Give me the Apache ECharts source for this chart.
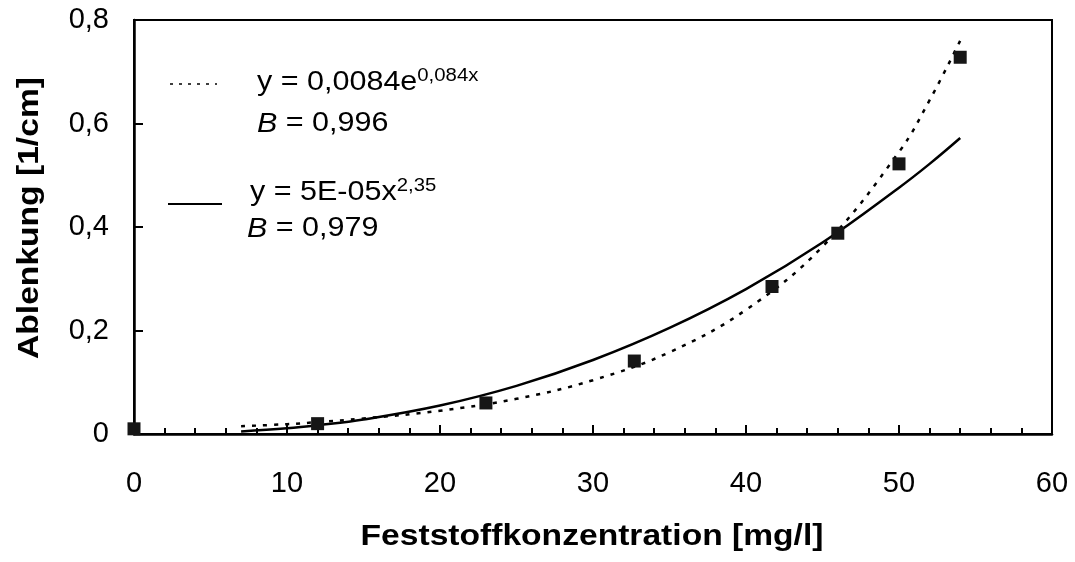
<!DOCTYPE html>
<html>
<head>
<meta charset="utf-8">
<script src="https://cdn.jsdelivr.net/npm/echarts@6/dist/echarts.min.js"></script>
<style>
  html, body { margin: 0; padding: 0; background: #fff; }
  #chart { width: 1075px; height: 562px; }
</style>
</head>
<body>
<div id="chart"></div>
<script>
// Measured points: solids concentration [mg/l] vs. deflection [1/cm]
const concentration = [0, 12, 23, 32.7, 41.7, 46, 50, 54];
const deflection = [0.01, 0.02, 0.06, 0.141, 0.285, 0.388, 0.522, 0.728];

// Trend curves (exponential, dotted; power, solid), sampled along x
const trendX = [7, 10, 12, 15, 20, 25, 30, 35, 40, 45, 50, 52, 54];
const expTrend = [0.015, 0.019, 0.023, 0.030, 0.045, 0.068, 0.104, 0.158, 0.240, 0.362, 0.545, 0.645, 0.760];
const powTrend = [0.005, 0.011, 0.017, 0.028, 0.055, 0.093, 0.143, 0.205, 0.280, 0.370, 0.476, 0.522, 0.572];

// Fit annotations
const expLabel = { main: 'y = 0,0084e', sup: '0,084x', r2: ' = 0,996' };
const powLabel = { main: 'y = 5E-05x', sup: '2,35', r2: ' = 0,979' };

const xTitle = 'Feststoffkonzentration [mg/l]';
const yTitle = 'Ablenkung [1/cm]';
const xTicks = [0, 10, 20, 30, 40, 50, 60];
const yTicks = [0, 0.2, 0.4, 0.6, 0.8];

const FONT = '"Liberation Sans", Arial, sans-serif';
const INK = '#000';
const WIDE = 1.13; // horizontal stretch of the annotation face

const pairs = (xs, ys) => xs.map((x, i) => [x, ys[i]]);

const chart = echarts.init(document.getElementById('chart'));

// equation with superscript exponent, anchored at its left edge / vertical middle
const fitText = (lbl, x, y) => ({
  type: 'text',
  x, y,
  scaleX: WIDE,
  style: {
    x: 0, y: 0,
    verticalAlign: 'middle',
    text: '{m|' + lbl.main + '}{s|' + lbl.sup + '}',
    rich: {
      m: { fontFamily: FONT, fontSize: 27, lineHeight: 32, fill: INK },
      s: { fontFamily: FONT, fontSize: 18, lineHeight: 18, verticalAlign: 'top', fill: INK }
    }
  }
});
const r2Text = (lbl, x, y) => ({
  type: 'text',
  x, y,
  scaleX: WIDE,
  style: {
    x: 0, y: 0,
    verticalAlign: 'middle',
    text: '{b|B}{m|' + lbl.r2 + '}',
    rich: {
      b: { fontFamily: FONT, fontSize: 27, fontStyle: 'italic', lineHeight: 32, fill: INK },
      m: { fontFamily: FONT, fontSize: 27, lineHeight: 32, fill: INK }
    }
  }
});
const titleStyle = text => ({
  text,
  x: 0, y: 0,
  align: 'center',
  verticalAlign: 'middle',
  font: 'bold 30px ' + FONT,
  fill: INK
});

chart.setOption({
  animation: false,
  backgroundColor: '#fff',
  grid: {
    left: 134, right: 23, top: 20, bottom: 128,
    show: true, borderColor: '#000', borderWidth: 2, backgroundColor: 'transparent'
  },
  xAxis: {
    type: 'value',
    min: xTicks[0], max: xTicks[xTicks.length - 1], interval: 10,
    axisLine: { show: true, lineStyle: { color: '#000', width: 2.5 } },
    axisTick: { show: true, inside: true, length: 9, lineStyle: { color: '#000', width: 2 } },
    minorTick: { show: true, splitNumber: 5, length: 6, lineStyle: { color: '#000', width: 2 } },
    splitLine: { show: false },
    axisLabel: {
      fontFamily: FONT, fontSize: 29, color: INK, margin: 35,
      formatter: v => String(v)
    }
  },
  yAxis: {
    type: 'value',
    min: yTicks[0], max: yTicks[yTicks.length - 1], interval: 0.2,
    axisLine: { show: true, lineStyle: { color: '#000', width: 2.5 } },
    axisTick: { show: true, inside: true, length: 9, lineStyle: { color: '#000', width: 2 } },
    splitLine: { show: false },
    axisLabel: {
      fontFamily: FONT, fontSize: 29, color: INK, margin: 25,
      formatter: v => (v === 0 ? '0' : v.toFixed(1).replace('.', ','))
    }
  },
  series: [
    {
      name: 'exp',
      type: 'line',
      data: pairs(trendX, expTrend),
      smooth: 0.4,
      showSymbol: false,
      lineStyle: { color: INK, width: 2.5, type: [4, 7], cap: 'butt' },
      z: 2
    },
    {
      name: 'pow',
      type: 'line',
      data: pairs(trendX, powTrend),
      smooth: 0.4,
      showSymbol: false,
      lineStyle: { color: INK, width: 2.5, type: 'solid' },
      z: 2
    },
    {
      name: 'Messwerte',
      type: 'scatter',
      data: pairs(concentration, deflection),
      symbol: 'rect',
      symbolSize: 13,
      itemStyle: { color: '#161616', opacity: 1 },
      z: 3
    }
  ],
  graphic: [
    // axis titles
    { type: 'text', x: 592, y: 537, scaleX: 1.12, style: titleStyle(xTitle) },
    { type: 'text', x: 30, y: 218, rotation: Math.PI / 2, scaleX: 1.12, style: titleStyle(yTitle) },
    // fit legend
    {
      type: 'line',
      shape: { x1: 170, y1: 84, x2: 217, y2: 84 },
      style: { stroke: INK, lineWidth: 1.5, lineDash: [3, 6] }
    },
    fitText(expLabel, 257, 83),
    r2Text(expLabel, 257, 124),
    {
      type: 'line',
      shape: { x1: 168, y1: 204, x2: 222, y2: 204 },
      style: { stroke: INK, lineWidth: 2 }
    },
    fitText(powLabel, 250, 193),
    r2Text(powLabel, 247, 229)
  ]
});
</script>
</body>
</html>
